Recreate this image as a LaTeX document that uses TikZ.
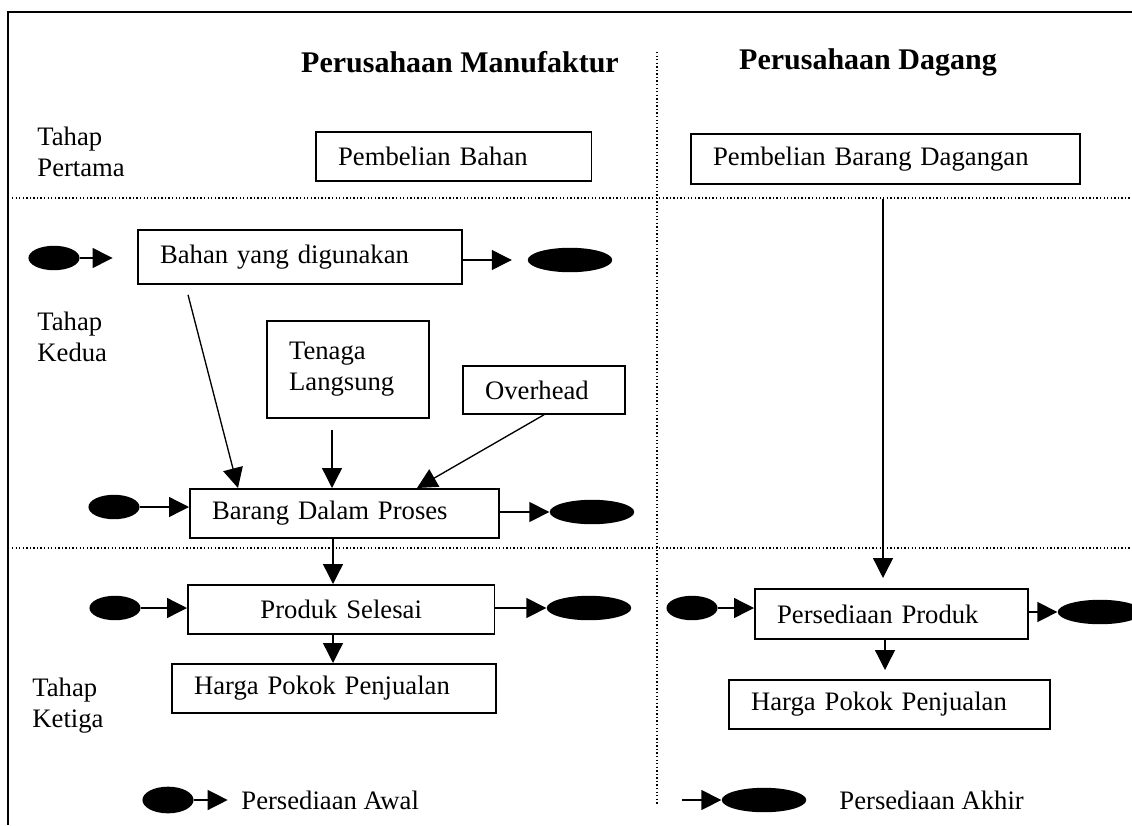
\documentclass[tikz,border=0pt]{standalone}
\usepackage{fontspec}
\setmainfont{Liberation Serif}
\usetikzlibrary{arrows.meta,shapes.geometric,calc}

\begin{document}
\begin{tikzpicture}[x=0.45pt,y=-0.45pt,font=\fontsize{12}{14}\selectfont]
  \path[use as bounding box] (0,0) rectangle (1132,825);

  \tikzset{
    box/.style={draw,line width=.8pt,inner xsep=10pt,inner ysep=2pt,align=left,anchor=north west},
    flow/.style={line width=.6pt,-{Triangle[length=9pt,width=9pt]}},
    awal/.style={ellipse,fill=black,inner sep=0pt,minimum width=23pt,minimum height=11pt},
    akhir/.style={ellipse,fill=black,inner sep=0pt,minimum width=38pt,minimum height=11pt},
    sep/.style={densely dotted,line width=.6pt},
    tahap/.style={align=left,anchor=west,inner sep=0pt}}

  % frame (right and bottom edges run off the page), then the dotted grid
  \draw[line width=1pt] (7,12) -- (1132,12);
  \draw[line width=1pt] (8,12) -- (8,825);
  \draw[sep] (657,52) -- (657,805);
  \draw[sep] (12,198) -- (1132,198);
  \draw[sep] (12,548) -- (1132,548);

  \node[font=\fontsize{13.5}{16}\selectfont\bfseries] (tmanuf) at (460,62) {Perusahaan Manufaktur};
  \node[font=\fontsize{13.5}{16}\selectfont\bfseries] (tdagang) at (868,62) {Perusahaan Dagang};

  \node[tahap] (tahap1) at (37,152) {Tahap\\Pertama};
  \node[tahap] (tahap2) at (37,337) {Tahap\\Kedua};
  \node[tahap] (tahap3) at (32,706) {Tahap\\Ketiga};

  % boxes, placed by their top left corners
  \node[box,text width=104pt,minimum height=22pt] (pb) at (315,131) {Pembelian Bahan};
  \node[box,text width=155pt,minimum height=22.5pt] (pbd) at (690,133) {Pembelian Barang Dagangan};
  \node[box,text width=126pt,minimum height=24.3pt] (byd) at (137,229) {Bahan yang digunakan};
  \node[box,text width=53pt,minimum height=43.7pt] (tl) at (266,320) {Tenaga\\Langsung};
  \node[box,text width=53pt,minimum height=21.6pt] (oh) at (462,365) {Overhead};
  \node[box,text width=119pt,minimum height=22pt] (bdp) at (189,488) {Barang Dalam Proses};
  \node[box,text width=118pt,minimum height=22pt,align=center] (ps) at (187,584) {Produk Selesai};
  \node[box,text width=125.8pt,minimum height=22pt] (hpp) at (171,663) {Harga Pokok Penjualan};
  \node[box,text width=102.8pt,minimum height=22.5pt] (pp) at (754,588) {Persediaan Produk};
  \node[box,text width=124.4pt,minimum height=22pt] (hpp2) at (728,679) {Harga Pokok Penjualan};

  \node[awal] (awal1) at (54,258) {};
  \node[akhir] (akhir1) at (570,260) {};
  \node[awal] (awal2) at (114,507) {};
  \node[akhir] (akhir2) at (592,512) {};
  \node[awal] (awal3) at (115,608) {};
  \node[akhir] (akhir3) at (589,608) {};
  \node[awal] (awal4) at (692,608) {};
  \node[akhir] (akhir4) at (1100,612) {};

  \draw[flow,shorten >=11pt] (awal1) -- (awal1 -| byd.west);
  \draw[flow,shorten >=7pt] (byd.east |- akhir1) -- (akhir1);
  \draw[flow] (awal2) -- (awal2 -| bdp.west);
  \draw[flow] (bdp.east |- akhir2) -- (akhir2);
  \draw[flow] (awal3) -- (awal3 -| ps.west);
  \draw[flow] (ps.east |- akhir3) -- (akhir3);
  \draw[flow] (awal4) -- (awal4 -| pp.west);
  \draw[flow] (pp.east |- akhir4) -- (akhir4);

  \draw[flow] ($(byd.south west)+(51,10)$) -- ($(bdp.north west)+(49,0)$);
  \draw[flow] ($(tl.south west)+(66,11)$) -- ($(bdp.north west)+(143,0)$);
  \draw[flow] (oh.south) -- ($(bdp.north west)+(228,0)$);
  \draw[flow] ($(bdp.south west)+(144,0)$) -- ($(ps.north west)+(146,0)$);
  \draw[flow] ($(ps.south west)+(146,0)$) -- ($(hpp.north west)+(162,0)$);
  \draw[flow] ($(pbd.south west)+(193,14)$) -- ($(pp.north west)+(129,-10)$);
  \draw[flow] ($(pp.south west)+(131,0)$) -- ($(hpp2.north west)+(157,-9)$);

  % legend
  \node[awal,minimum height=12pt] (lgawal) at (168,800) {};
  \node[anchor=west,inner sep=0pt] (lgawaltxt) at (241,800) {Persediaan Awal};
  \draw[flow,shorten >=6pt] (lgawal) -- (lgawaltxt);
  \coordinate (lgstart) at (682,800);
  \node[akhir] (lgakhir) at (764,800) {};
  \node[anchor=west,inner sep=0pt] (lgakhirtxt) at (839,800) {Persediaan Akhir};
  \draw[flow] (lgstart) -- (lgakhir);
\end{tikzpicture}
\end{document}
